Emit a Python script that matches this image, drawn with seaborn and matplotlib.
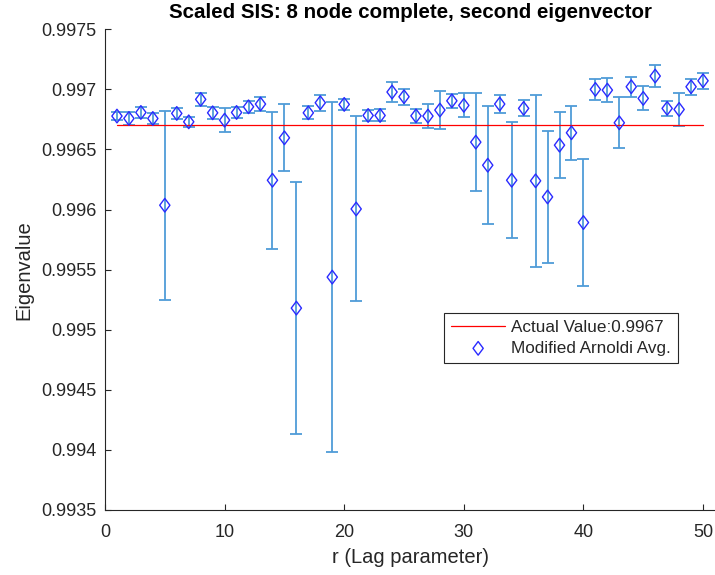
import numpy as np
import pandas as pd
import matplotlib
matplotlib.use("Agg")
import matplotlib.pyplot as plt
from matplotlib.path import Path
import seaborn as sns

# Lag parameter values
lags = list(range(1, 51))

# Modified Arnoldi average estimate of the second eigenvalue, per lag
arnoldi_avg = [
    0.996778, 0.996758, 0.996808, 0.996758, 0.996036,
    0.996800, 0.996730, 0.996917, 0.996805, 0.996744,
    0.996808, 0.996855, 0.996878, 0.996244, 0.996597,
    0.995180, 0.996805, 0.996889, 0.995438, 0.996875,
    0.996005, 0.996783, 0.996783, 0.996978, 0.996939,
    0.996780, 0.996778, 0.996828, 0.996905, 0.996867,
    0.996561, 0.996369, 0.996878, 0.996244, 0.996842,
    0.996239, 0.996105, 0.996536, 0.996639, 0.995892,
    0.997000, 0.996994, 0.996722, 0.997022, 0.996925,
    0.997111, 0.996842, 0.996833, 0.997022, 0.997072,
]

# Half-width of the error bar at each lag
arnoldi_err = [
    0.000036, 0.000053, 0.000048, 0.000046, 0.000785,
    0.000043, 0.000039, 0.000056, 0.000050, 0.000099,
    0.000044, 0.000048, 0.000059, 0.000569, 0.000280,
    0.001048, 0.000053, 0.000068, 0.001458, 0.000048,
    0.000770, 0.000042, 0.000050, 0.000085, 0.000065,
    0.000060, 0.000097, 0.000156, 0.000058, 0.000100,
    0.000407, 0.000492, 0.000077, 0.000483, 0.000067,
    0.000716, 0.000550, 0.000274, 0.000225, 0.000530,
    0.000088, 0.000098, 0.000213, 0.000083, 0.000100,
    0.000092, 0.000061, 0.000140, 0.000066, 0.000067,
]

# True eigenvalue
actual_value = 0.9967

y_ticks = [0.9935, 0.994, 0.9945, 0.995, 0.9955, 0.996, 0.9965, 0.997, 0.9975]
x_ticks = [0, 10, 20, 30, 40, 50]

df = pd.DataFrame({"r": lags, "avg": arnoldi_avg, "err": arnoldi_err})
df["actual"] = actual_value

sns.set_theme(style="white")
plt.rcParams["font.family"] = ["Liberation Sans", "DejaVu Sans"]

fig = plt.figure(figsize=(7.15, 5.75), dpi=100)
ax = fig.add_axes([105 / 715, 65 / 575, 610 / 715, 480.7 / 575])

axis_grey = "#262626"

# error bars
ax.errorbar(df["r"], df["avg"], yerr=df["err"], fmt="none",
            ecolor="#4f9cd8", elinewidth=1.3, capsize=4, capthick=1.3,
            zorder=2)

# actual value line
sns.lineplot(data=df, x="r", y="actual", ax=ax, color="#ff0000",
             linewidth=0.9, label=f"Actual Value:{actual_value:g}", zorder=3)

# diamond marker, taller than wide
diamond = Path([(0, 1), (0.75, 0), (0, -1), (-0.75, 0), (0, 1)],
               [Path.MOVETO, Path.LINETO, Path.LINETO, Path.LINETO,
                Path.CLOSEPOLY])
sns.scatterplot(data=df, x="r", y="avg", ax=ax, marker=diamond, s=9.8 ** 2,
                facecolor="none", edgecolor="#2a2aff", linewidth=1.0,
                label="Modified Arnoldi Avg.", zorder=4)

ax.set_xlim(0, 51)
ax.set_ylim(0.9935, 0.9975)
ax.set_xticks(x_ticks)
ax.set_yticks(y_ticks)
ax.set_yticklabels([f"{v:g}" for v in y_ticks])

ax.set_title("Scaled SIS: 8 node complete, second eigenvector",
             fontsize=14.8, fontweight="bold", color="black", pad=8)
ax.set_xlabel("r (Lag parameter)", fontsize=14.5, color=axis_grey, labelpad=5)
ax.set_ylabel("Eigenvalue", fontsize=14.5, color=axis_grey, labelpad=6)

for side in ["top", "right"]:
    ax.spines[side].set_visible(False)
for side in ["left", "bottom"]:
    ax.spines[side].set_color(axis_grey)
    ax.spines[side].set_linewidth(0.8)

ax.tick_params(axis="both", direction="in", length=4.5, width=0.8,
               colors=axis_grey, labelsize=13, left=True, bottom=True)
ax.tick_params(axis="y", pad=6)
ax.tick_params(axis="x", pad=10)

leg = ax.legend(loc="upper left", bbox_to_anchor=(0.5557, 0.4098),
                fontsize=12.3, frameon=True, fancybox=False, framealpha=1,
                borderpad=0.4, handlelength=3.2, handletextpad=0.35,
                labelspacing=0.35, borderaxespad=0)
leg.get_frame().set_edgecolor(axis_grey)
leg.get_frame().set_linewidth(0.8)
leg.set_zorder(10)

fig.savefig("out.png", dpi=100, facecolor="white")
